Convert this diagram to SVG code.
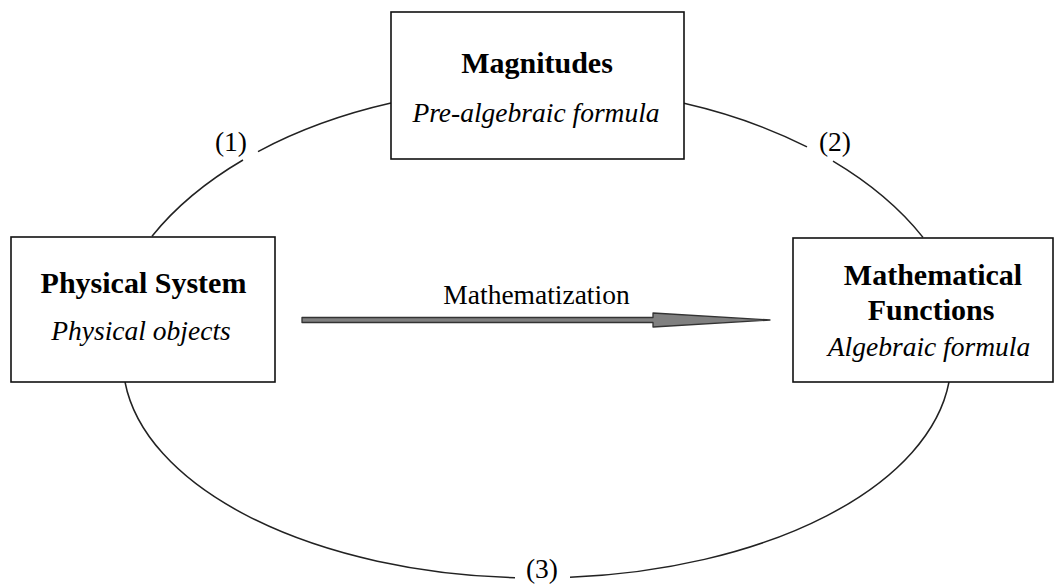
<svg xmlns="http://www.w3.org/2000/svg" width="1061" height="588" viewBox="0 0 1061 588">
<style>
.box{fill:#fff;stroke:#111;stroke-width:1.6}
.arc{fill:none;stroke:#222;stroke-width:1.5}
.t{font-family:"Liberation Serif","Times New Roman",serif;fill:#000;text-anchor:middle}
.b{font-weight:bold;font-size:30px}
.i{font-style:italic;font-size:27.5px}
.r{font-size:27.5px}
</style>
<rect width="1061" height="588" fill="#fff"/>
<g id="connectors">
<path class="arc" d="M152,236.2 A432,273 0 0 1 243,160"/>
<path class="arc" d="M258,151.6 A432,273 0 0 1 391,103.1"/>
<path class="arc" d="M684,103.3 A432,273 0 0 1 807,146.9"/>
<path class="arc" d="M833,161.2 A432,273 0 0 1 923,237.4"/>
<path class="arc" d="M125,382 A414,218 0 0 0 515,577.7"/>
<path class="arc" d="M570,577.3 A414,218 0 0 0 949,382"/>
<text class="t r" x="231" y="151">(1)</text>
<text class="t r" x="835" y="151">(2)</text>
<text class="t r" x="542" y="578">(3)</text>
<g id="mathematization">
<path d="M302,317.5 L653,317.5 L653,313 L770,320 L653,327 L653,322.5 L302,322.5 Z" fill="#808080" stroke="#333" stroke-width="1.3" stroke-linejoin="round"/>
<text class="t r" x="536.5" y="304">Mathematization</text>
</g>
</g>
<g id="magnitudes">
<rect class="box" x="391" y="12" width="293" height="147"/>
<text class="t b" x="537" y="73">Magnitudes</text>
<text class="t i" x="536" y="122">Pre-algebraic formula</text>
</g>
<g id="physical-system">
<rect class="box" x="11" y="237" width="264" height="145"/>
<text class="t b" x="143.5" y="293">Physical System</text>
<text class="t i" x="141" y="340">Physical objects</text>
</g>
<g id="mathematical-functions">
<rect class="box" x="793" y="238" width="260" height="144"/>
<text class="t b" x="933" y="285">Mathematical</text>
<text class="t b" x="931" y="320">Functions</text>
<text class="t i" x="929" y="356">Algebraic formula</text>
</g>
</svg>
